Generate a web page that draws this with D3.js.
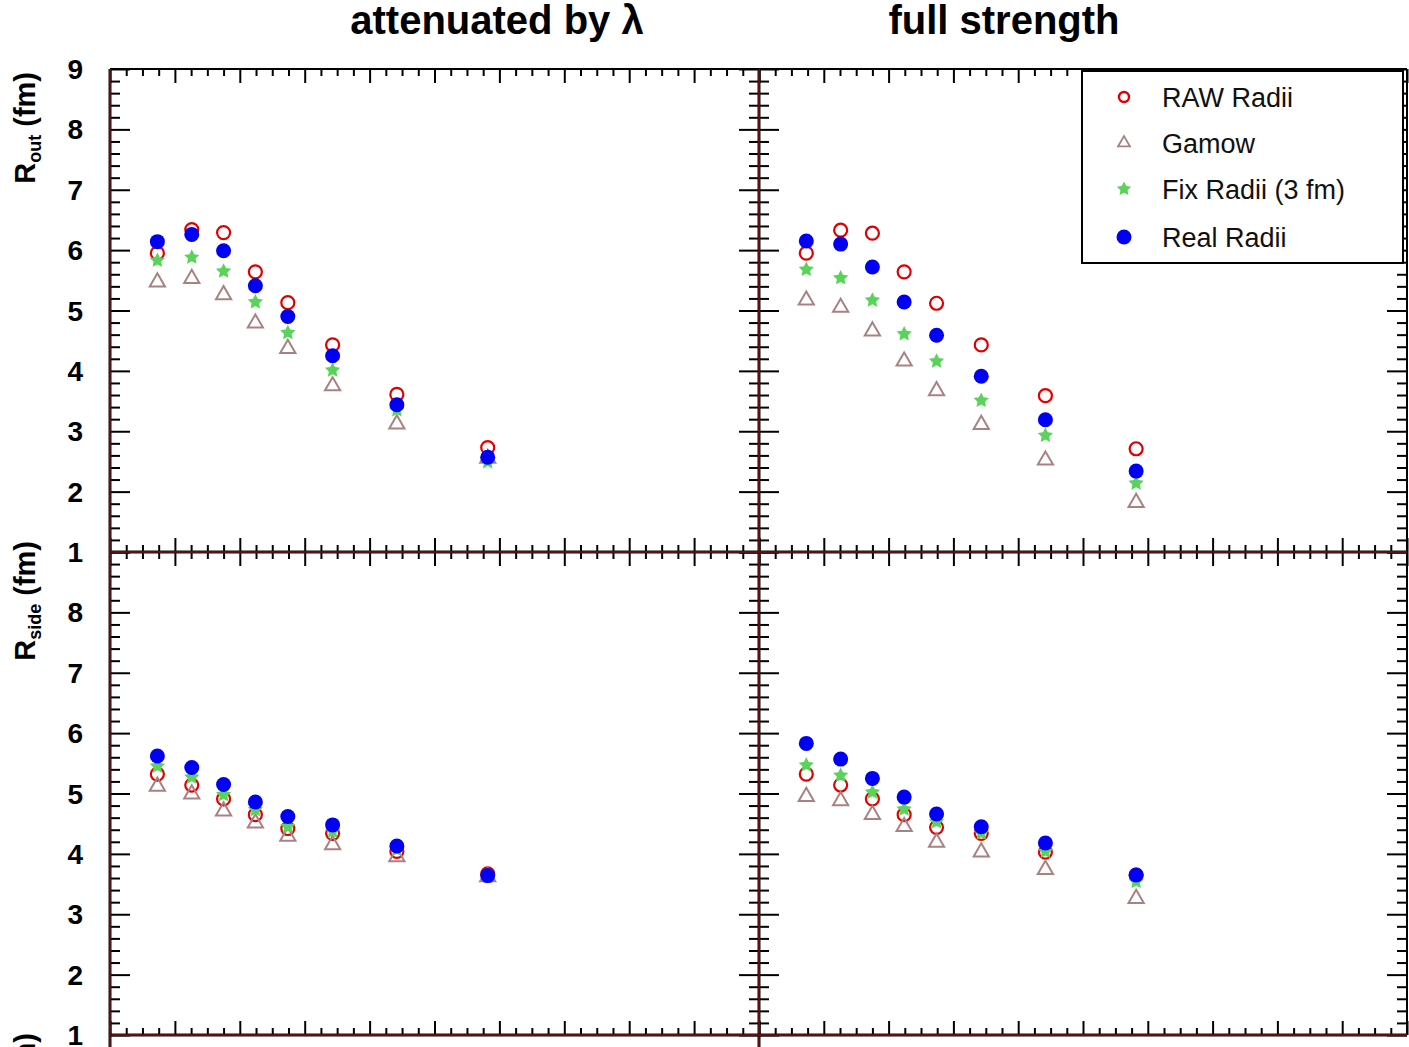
<!DOCTYPE html>
<html>
<head>
<meta charset="utf-8">
<script src="https://cdn.jsdelivr.net/npm/d3@7"></script>
<style>
  body { margin: 0; background: #fff; }
  svg text { font-family: "Liberation Sans", Arial, sans-serif; }
</style>
</head>
<body>
<svg id="chart" width="1409" height="1047"></svg>
<script>
// x positions of the 8 bins (same for every panel)
var binX = [0.073, 0.126, 0.175, 0.224, 0.274, 0.343, 0.442, 0.582];
var yTickVals = [1, 2, 3, 4, 5, 6, 7, 8, 9];

var columnTitles = ["attenuated by \u03bb", "full strength"];
var seriesNames  = ["RAW Radii", "Gamow", "Fix Radii (3 fm)", "Real Radii"];

// R_out, attenuated by lambda
var outAttRaw   = [5.95, 6.34, 6.29, 5.64, 5.13, 4.43, 3.61, 2.73];
var outAttGamow = [5.47, 5.53, 5.26, 4.79, 4.37, 3.75, 3.12, 2.55];
var outAttFix   = [5.83, 5.88, 5.65, 5.14, 4.63, 4.01, 3.35, 2.49];
var outAttReal  = [6.14, 6.26, 5.99, 5.41, 4.90, 4.25, 3.44, 2.57];

// R_out, full strength
var outFullRaw   = [5.95, 6.33, 6.28, 5.64, 5.12, 4.43, 3.59, 2.71];
var outFullGamow = [5.17, 5.05, 4.66, 4.16, 3.67, 3.11, 2.52, 1.82];
var outFullFix   = [5.68, 5.54, 5.17, 4.61, 4.16, 3.51, 2.93, 2.14];
var outFullReal  = [6.15, 6.10, 5.72, 5.14, 4.59, 3.91, 3.19, 2.34];

// R_side, attenuated by lambda
var sideAttRaw   = [5.32, 5.14, 4.91, 4.65, 4.42, 4.34, 4.04, 3.67];
var sideAttGamow = [5.12, 4.99, 4.71, 4.51, 4.29, 4.15, 3.95, 3.62];
var sideAttFix   = [5.45, 5.27, 4.98, 4.73, 4.45, 4.37, 4.07, 3.63];
var sideAttReal  = [5.62, 5.43, 5.15, 4.86, 4.62, 4.48, 4.13, 3.64];

// R_side, full strength
var sideFullRaw   = [5.32, 5.14, 4.91, 4.65, 4.44, 4.34, 4.03, 3.65];
var sideFullGamow = [4.95, 4.88, 4.65, 4.45, 4.19, 4.03, 3.74, 3.26];
var sideFullFix   = [5.47, 5.30, 5.02, 4.74, 4.53, 4.34, 4.04, 3.54];
var sideFullReal  = [5.83, 5.57, 5.25, 4.94, 4.66, 4.45, 4.18, 3.65];

var svg = d3.select("#chart");

// scales: two columns, two rows
var xLeft  = d3.scaleLinear().domain([0, 1]).range([110, 759]);
var xRight = d3.scaleLinear().domain([0, 1]).range([759, 1407]);
var yTop   = d3.scaleLinear().domain([1, 9]).range([552, 69]);
var yBot   = d3.scaleLinear().domain([1, 9]).range([1035, 552]);

var xMajor = d3.range(0, 1.0001, 0.1);
var xMinor = d3.range(0, 1.0001, 0.025).filter(function(v) { return Math.round(v * 40) % 4 != 0; });
var yMinor = d3.range(1, 9.0001, 0.2).filter(function(v) { return Math.round(v * 5) % 5 != 0; });

// fatter five point star than d3.symbolStar (ROOT style)
var fatStar = {
  draw: function(ctx, size) {
    var r = Math.sqrt(size) / 2, ri = r * 0.5;
    for (var i = 0; i < 10; i++) {
      var a = -Math.PI / 2 + i * Math.PI / 5, rr = (i % 2) ? ri : r;
      if (i == 0) ctx.moveTo(rr * Math.cos(a), rr * Math.sin(a));
      else ctx.lineTo(rr * Math.cos(a), rr * Math.sin(a));
    }
    ctx.closePath();
  }
};

var gridLayer = svg.append("g");
var markLayer = svg.append("g");

// one tick set (no domain line, no labels)
function tickSet(axis, values, size, tx, ty) {
  var g = gridLayer.append("g")
      .attr("transform", "translate(" + tx + "," + ty + ")")
      .call(axis.tickValues(values).tickSize(size).tickFormat(""));
  g.select(".domain").remove();
  g.selectAll(".tick line").attr("stroke", "#000").attr("stroke-width", 2);
}

function drawFrameTicks(xs, ys) {
  var x0 = xs.range()[0], x1 = xs.range()[1];
  var yb = ys.range()[0], yt = ys.range()[1];
  // bottom edge, ticks pointing up
  tickSet(d3.axisTop(xs), xMajor, 14, 0, yb);
  tickSet(d3.axisTop(xs), xMinor, 7, 0, yb);
  // top edge, ticks pointing down
  tickSet(d3.axisBottom(xs), xMajor, 14, 0, yt);
  tickSet(d3.axisBottom(xs), xMinor, 7, 0, yt);
  // left edge, ticks pointing right
  tickSet(d3.axisRight(ys), yTickVals, 20, x0, 0);
  tickSet(d3.axisRight(ys), yMinor, 10, x0, 0);
  // right edge, ticks pointing left
  tickSet(d3.axisLeft(ys), yTickVals, 20, x1, 0);
  tickSet(d3.axisLeft(ys), yMinor, 10, x1, 0);
}

var panels = [
  {xs: xLeft,  ys: yTop, raw: outAttRaw,   gamow: outAttGamow,   fix: outAttFix,   real: outAttReal},
  {xs: xRight, ys: yTop, raw: outFullRaw,  gamow: outFullGamow,  fix: outFullFix,  real: outFullReal},
  {xs: xLeft,  ys: yBot, raw: sideAttRaw,  gamow: sideAttGamow,  fix: sideAttFix,  real: sideAttReal},
  {xs: xRight, ys: yBot, raw: sideFullRaw, gamow: sideFullGamow, fix: sideFullFix, real: sideFullReal}
];

panels.forEach(function(p) { drawFrameTicks(p.xs, p.ys); });

// frame lines: top and right plain black, axis lines dark with a red core
gridLayer.append("line").attr("x1", 110).attr("x2", 1407).attr("y1", 69).attr("y2", 69)
    .attr("stroke", "#000").attr("stroke-width", 2);
gridLayer.append("line").attr("x1", 1407).attr("x2", 1407).attr("y1", 69).attr("y2", 1035)
    .attr("stroke", "#000").attr("stroke-width", 2);

var axisLines = [[110, 69, 110, 1047], [759, 69, 759, 1047], [110, 552, 1407, 552], [110, 1035, 1407, 1035]];
axisLines.forEach(function(l) {
  gridLayer.append("line").attr("x1", l[0]).attr("y1", l[1]).attr("x2", l[2]).attr("y2", l[3])
      .attr("stroke", "#111").attr("stroke-width", 3);
  gridLayer.append("line").attr("x1", l[0]).attr("y1", l[1]).attr("x2", l[2]).attr("y2", l[3])
      .attr("stroke", "#a01010").attr("stroke-width", 1);
});

// y tick labels
function yLabels(ys, vals) {
  gridLayer.selectAll(null).data(vals).enter().append("text")
      .attr("x", 83)
      .attr("y", function(d) { return ys(d); })
      .attr("dy", "0.36em")
      .attr("text-anchor", "end")
      .attr("font-size", 28)
      .attr("font-weight", "bold")
      .text(function(d) { return d; });
}
yLabels(yTop, yTickVals);
yLabels(yBot, yTickVals.slice(0, 8));

// axis titles (rotated, subscripted)
function yTitle(main, sub, yEnd) {
  var t = svg.append("text")
      .attr("transform", "translate(35," + yEnd + ")rotate(-90)")
      .attr("text-anchor", "end")
      .attr("font-size", 29)
      .attr("font-weight", "bold");
  t.append("tspan").text(main);
  t.append("tspan").attr("font-size", 18).attr("dy", 6).text(sub);
  t.append("tspan").attr("dy", -6).text(" (fm)");
}
yTitle("R", "out", 72);
yTitle("R", "side", 541);
yTitle("R", "long", 1033);

// column titles
svg.selectAll(null).data(columnTitles).enter().append("text")
    .attr("x", function(d, i) { return [497, 1004][i]; })
    .attr("y", 34)
    .attr("text-anchor", "middle")
    .attr("font-size", 40)
    .attr("font-weight", "bold")
    .text(function(d) { return d; });

// marker styles
var RED = "#e00000", BROWN = "#a88282", GREEN = "#5ad35a", BLUE = "#0000f5";

function drawSeries(p) {
  var pts = function(arr) { return arr.map(function(v, i) { return [p.xs(binX[i]), p.ys(v)]; }); };

  markLayer.selectAll(null).data(pts(p.raw)).enter().append("circle")
      .attr("cx", function(d) { return d[0]; }).attr("cy", function(d) { return d[1]; })
      .attr("r", 6.5).attr("fill", "none").attr("stroke", RED).attr("stroke-width", 2.2);

  markLayer.selectAll(null).data(pts(p.gamow)).enter().append("path")
      .attr("d", d3.symbol().type(d3.symbolTriangle).size(100))
      .attr("transform", function(d) { return "translate(" + d[0] + "," + d[1] + ")"; })
      .attr("fill", "none").attr("stroke", BROWN).attr("stroke-width", 2);

  markLayer.selectAll(null).data(pts(p.fix)).enter().append("path")
      .attr("d", d3.symbol().type(fatStar).size(256))
      .attr("transform", function(d) { return "translate(" + d[0] + "," + d[1] + ")"; })
      .attr("fill", GREEN);

  markLayer.selectAll(null).data(pts(p.real)).enter().append("circle")
      .attr("cx", function(d) { return d[0]; }).attr("cy", function(d) { return d[1]; })
      .attr("r", 7.5).attr("fill", BLUE);
}
panels.forEach(drawSeries);

// legend
var leg = svg.append("g");
leg.append("rect").attr("x", 1082).attr("y", 71).attr("width", 321).attr("height", 192)
    .attr("fill", "#fff").attr("stroke", "#000").attr("stroke-width", 2);

var legY = [97, 143, 189, 237];
leg.append("circle").attr("cx", 1124).attr("cy", legY[0]).attr("r", 5)
    .attr("fill", "none").attr("stroke", RED).attr("stroke-width", 2.4);
leg.append("path").attr("d", d3.symbol().type(d3.symbolTriangle).size(62))
    .attr("transform", "translate(1124," + legY[1] + ")")
    .attr("fill", "none").attr("stroke", BROWN).attr("stroke-width", 1.8);
leg.append("path").attr("d", d3.symbol().type(fatStar).size(225))
    .attr("transform", "translate(1124," + legY[2] + ")")
    .attr("fill", GREEN);
leg.append("circle").attr("cx", 1124).attr("cy", legY[3]).attr("r", 7.5).attr("fill", BLUE);

leg.selectAll(null).data(seriesNames).enter().append("text")
    .attr("x", 1162)
    .attr("y", function(d, i) { return legY[i]; })
    .attr("dy", "0.36em")
    .attr("font-size", 27)
    .attr("fill", "#111")
    .text(function(d) { return d; });
</script>
</body>
</html>
